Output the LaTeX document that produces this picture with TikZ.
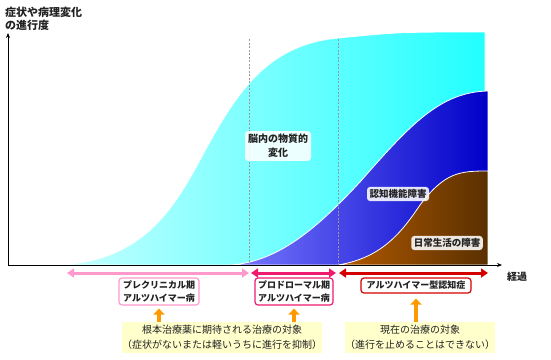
\documentclass[tikz,border=0pt]{standalone}
\usepackage{fontspec}
\setmainfont{Noto Sans CJK JP}
\usetikzlibrary{arrows.meta}
\definecolor{cyanL}{HTML}{C8FFFF}
\definecolor{cyanR}{HTML}{22FFFF}
\definecolor{blueL}{HTML}{7A7AFF}
\definecolor{blueR}{HTML}{0000C8}
\definecolor{brownL}{HTML}{B35A00}
\definecolor{brownR}{HTML}{5A3000}
\definecolor{stagePink}{HTML}{FF99CC}
\definecolor{stageMag}{HTML}{EE1B6E}
\definecolor{stageRed}{HTML}{D40000}
\definecolor{noteYel}{HTML}{FFFFCC}
\definecolor{noteOr}{HTML}{FF9900}
\definecolor{ink}{HTML}{222222}

\tikzset{
  lbl/.style={fill=white, fill opacity=0.88, text opacity=1, text=ink, rounded corners=3pt,
    align=center, font=\bfseries\fontsize{9.5}{13}\selectfont, inner sep=2.5pt},
  stage/.style={draw=#1, line width=1.2pt, fill=white, rounded corners=3pt, text=ink,
    align=center, font=\bfseries\fontsize{9}{13.5}\selectfont, inner sep=0pt},
  period/.style={#1, line width=3pt, {Triangle[length=7pt,width=9pt]}-{Triangle[length=7pt,width=9pt]}},
  note/.style={fill=noteYel, text=ink, align=center, font=\fontsize{10}{15}\selectfont,
    minimum height=31pt, inner sep=0pt},
  uparr/.style={noteOr, line width=4.5pt, -{Triangle[length=6pt,width=11pt]}},
  edge/.style={draw=white, line width=0.8pt},
}

\begin{document}
\begin{tikzpicture}[x=1pt,y=-1pt]
    \useasboundingbox (0,0) rectangle (551,359);
    % regions under the curves
    \shade[edge, left color=cyanL, right color=cyanR]
      (57,265) .. controls (140,262) and (172,212) .. (200,160)
      .. controls (235,95) and (265,45) .. (338,38)
      .. controls (400,32) .. (485,32) -- (485,265) -- cycle;
    \shade[edge, left color=blueL, right color=blueR]
      (230,265) .. controls (280,262) and (320,225) .. (360,182)
      .. controls (410,125) and (440,92) .. (488,91) -- (488,265) -- cycle;
    \shade[edge, left color=brownL, right color=brownR]
      (338,265) .. controls (380,258) and (400,235) .. (420,205)
      .. controls (445,172) and (460,171) .. (488,171) -- (488,265) -- cycle;
    % stage borders
    \coordinate (s1) at (249,39);
    \coordinate (s2) at (338,39);
    \draw[gray!80, line width=0.6pt, dash pattern=on 2pt off 1.5pt] (s1) -- (s1 |- 0,265);
    \draw[gray!80, line width=0.6pt, dash pattern=on 2pt off 1.5pt] (s2) -- (s2 |- 0,265);
    % axes
    \coordinate (O) at (8,265);
    \coordinate (Y) at (8,33);
    \coordinate (X) at (502,265);
    \draw[line width=1pt, -{Stealth[length=5pt,width=4pt]}] (O) -- (Y);
    \draw[line width=1pt, -{Stealth[length=5pt,width=4pt]}] (O) -- (X);
    \node[anchor=north west, align=left, text=ink, inner sep=0pt,
      font=\bfseries\fontsize{11}{13}\selectfont] (ylab) at (5,7) {症状や病理変化\\の進行度};
    \node[text=ink, font=\bfseries\fontsize{10}{12}\selectfont] (xlab) at (517,277) {経過};
    % labels in the graph
    \node[lbl, font=\bfseries\fontsize{10}{14}\selectfont, inner sep=3pt] (brain) at (278,146) {脳内の物質的\\変化};
    \node[lbl] (cog) at (398,194) {認知機能障害};
    \node[lbl] (daily) at (447,243) {日常生活の障害};
    % periods
    \coordinate (p0) at (67,273);
    \coordinate (p1) at (249,273);
    \coordinate (p2) at (251,273);
    \coordinate (p3) at (336,273);
    \coordinate (p4) at (339,273);
    \coordinate (p5) at (488,273);
    \draw[period=stagePink] (p0) -- (p1);
    \draw[period=stageMag] (p2) -- (p3);
    \draw[period=stageRed] (p4) -- (p5);
    \node[stage=stagePink, minimum width=80pt, minimum height=27pt] (pre) at (159,291.5) {プレクリニカル期\\アルツハイマー病};
    \node[stage=stageMag, minimum width=78pt, minimum height=27pt] (pro) at (294,291.5) {プロドローマル期\\アルツハイマー病};
    \node[stage=stageRed, minimum width=110pt, minimum height=15pt] (dem) at (416,285.5) {アルツハイマー型認知症};
    % treatment targets
    \node[note, minimum width=200pt] (hope) at (222,337.5) {根本治療薬に期待される治療の対象\\（症状がないまたは軽いうちに進行を抑制）};
    \node[note, minimum width=144pt] (now) at (420,337.5) {現在の治療の対象\\（進行を止めることはできない）};
    \draw[uparr] (pre.south |- hope.north) -- ([yshift=-3pt]pre.south);
    \draw[uparr] (pro.south |- hope.north) -- ([yshift=-3pt]pro.south);
    \draw[uparr] (dem.south |- now.north) -- ([yshift=-5pt]dem.south);
\end{tikzpicture}
\end{document}
